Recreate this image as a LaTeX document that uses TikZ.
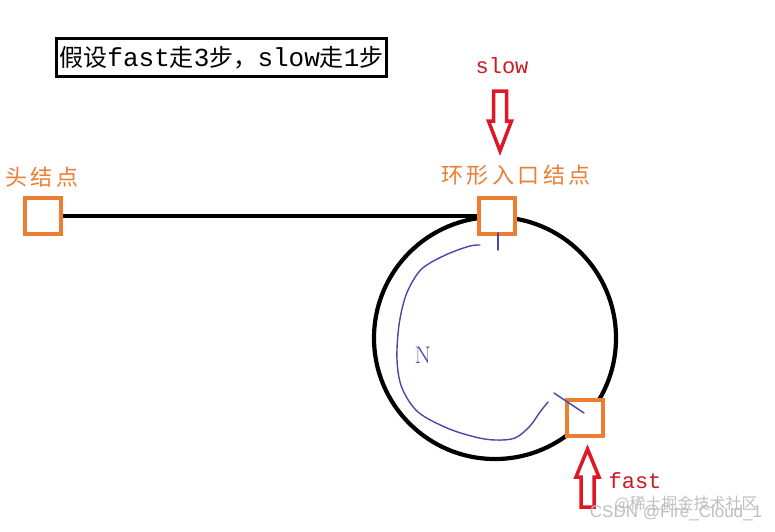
\documentclass[tikz,border=0pt]{standalone}
\usepackage{fontspec}
\newfontfamily\cjk{Noto Sans CJK SC}
\newfontfamily\cjklbl[LetterSpace=16]{Noto Sans CJK SC}
\newfontfamily\monofam{Liberation Mono}
\newfontfamily\wmsans{Liberation Sans}
\definecolor{orng}{RGB}{237,125,49}
\definecolor{redarrow}{RGB}{222,24,40}
\definecolor{redtext}{RGB}{205,25,35}
\definecolor{bluepen}{RGB}{72,72,172}
\newcommand{\latx}[1]{{\monofam\fontsize{26}{27}\selectfont #1}}
\tikzset{
  titlebox/.style={draw, line width=3pt, minimum width=330pt, minimum height=38pt, inner sep=0pt,
    font=\cjk\fontsize{24}{26}\selectfont},
  lbl/.style={text=orng, inner sep=0pt, font=\cjklbl\fontsize{22}{23}\selectfont},
  sq/.style={draw=orng, line width=4pt, fill=white, minimum size=36pt, inner sep=0pt},
  redlbl/.style={text=redtext, inner sep=0pt, font=\monofam\fontsize{22}{24}\selectfont},
  hollowarrow/.style={draw=redarrow, line width=3.5pt, fill=white, line join=miter, miter limit=10},
  pen/.style={draw=bluepen, line width=1.4pt, line cap=round, line join=round},
  wm/.style={inner sep=0pt, text=gray!50}
}
\begin{document}
\begin{tikzpicture}[x=1pt,y=-1pt]
\useasboundingbox (0,0) rectangle (775,531);
\fill[white] (0,0) rectangle (775,531);

% title
\node[titlebox] (title) at (221.5,57.5) {假设\latx{fast}走\latx{3}步，\latx{slow}走\latx{1}步};

% ring
\node[draw, circle, line width=4.2pt, minimum size=242pt, inner sep=0pt] (ring) at (495,338) {};

% squares
\node[sq] (head) at (43,216) {};
\node[sq] (entry) at (497,216) {};
\node[sq] (fastsq) at (585,418) {};
\draw[line width=4pt] (head.east) -- (entry.west);
\node[sq] at (entry) {};

% labels
\node[lbl] (headlbl) at (42,177) {头结点};
\node[lbl] (entrylbl) at (516,175) {环形入口结点};
\node[redlbl] (slowlbl) at (502,66) {slow};
\node[redlbl] (fastlbl) at (635,481) {fast};

% hollow arrows
\draw[hollowarrow] (493.5,91) -- (506.5,91) -- (506.5,121) -- (511.5,121) -- (500,151) -- (488.5,121) -- (493.5,121) -- cycle;
\draw[hollowarrow] (581,507) -- (594,507) -- (594,477) -- (599,477) -- (587.5,449) -- (576,477) -- (581,477) -- cycle;

% blue pen strokes
\draw[pen] plot[smooth, tension=0.55] coordinates {(480,245) (470,246) (450,253) (430,263) (418,273) (406,295) (399,325) (397,360) (402,388) (418,412) (447,428) (475,437) (495,440) (515,438) (530,426) (540,412) (548,402)};
\draw[pen] (498,233) -- (498,250);
\draw[pen] (554,393) -- (584,413);
\node[text=bluepen, inner sep=0pt, font=\fontsize{24}{26}\selectfont] (N) at (423,355) {N};

% watermark
\node[wm, font=\cjk\fontsize{16}{17}\selectfont] (wm2) at (686,504) {@稀土掘金技术社区};
\node[wm, font=\wmsans\fontsize{17}{18}\selectfont] (wm1) at (676,513) {CSDN @Fire\_Cloud\_1};
\end{tikzpicture}
\end{document}
